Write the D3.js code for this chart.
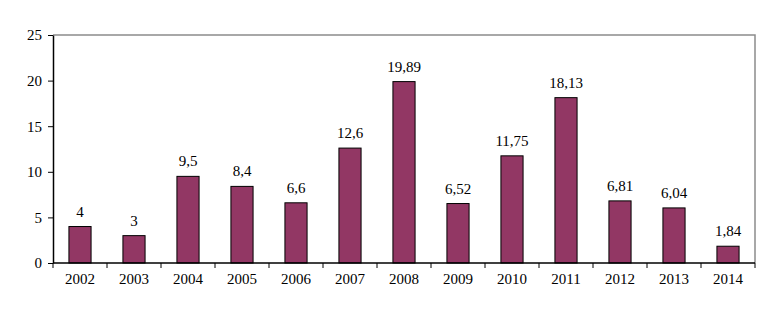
<!DOCTYPE html>
<html>
<head>
<meta charset="utf-8">
<script src="https://cdn.jsdelivr.net/npm/d3@7"></script>
<style>
  html, body { margin: 0; padding: 0; background: #fff; }
  svg text { font-family: "Liberation Serif", "Times New Roman", Times, serif; font-size: 15px; fill: #000; }
</style>
</head>
<body>
<svg id="chart" width="777" height="322"></svg>
<script>
const years = ["2002","2003","2004","2005","2006","2007","2008","2009","2010","2011","2012","2013","2014"];
const values = [4, 3, 9.5, 8.4, 6.6, 12.6, 19.89, 6.52, 11.75, 18.13, 6.81, 6.04, 1.84];
const valueLabels = ["4","3","9,5","8,4","6,6","12,6","19,89","6,52","11,75","18,13","6,81","6,04","1,84"];
const yTicks = [0, 5, 10, 15, 20, 25];

const svg = d3.select("#chart");
const plotL = 53, plotR = 755, plotT = 35, plotB = 263;

const x = d3.scaleBand().domain(years).range([plotL, plotR]).paddingInner(0).paddingOuter(0);
const y = d3.scaleLinear().domain([0, 25]).range([plotB, plotT]);

// plot frame (top and right edges)
svg.append("path")
  .attr("d", `M${plotL},${plotT}H${plotR}V${plotB}`)
  .attr("fill", "none").attr("stroke", "#8c8c8c").attr("stroke-width", 1.5);

// bars
const barW = x.bandwidth() * 0.41;
svg.append("g").selectAll("rect").data(years).join("rect")
  .attr("x", d => x(d) + (x.bandwidth() - barW) / 2)
  .attr("y", (d, i) => y(values[i]))
  .attr("width", barW)
  .attr("height", (d, i) => y(0) - y(values[i]))
  .attr("fill", "#923764")
  .attr("stroke", "#000").attr("stroke-width", 1);

// value labels
svg.append("g").selectAll("text").data(years).join("text")
  .attr("x", d => x(d) + x.bandwidth() / 2)
  .attr("y", (d, i) => y(values[i]) - 10)
  .attr("text-anchor", "middle")
  .text((d, i) => valueLabels[i]);

// y axis
const yAxis = d3.axisLeft(y).tickValues(yTicks).tickSize(5).tickSizeOuter(0).tickPadding(6);
const gy = svg.append("g").attr("transform", `translate(${plotL},0)`).call(yAxis);
gy.attr("font-family", null).attr("font-size", null);
gy.select(".domain").attr("stroke", "#000").attr("stroke-width", 1.5);
gy.selectAll(".tick line").attr("stroke", "#000");

// x axis: ticks sit between categories
const gx = svg.append("g").attr("transform", `translate(0,${plotB})`);
gx.append("line").attr("x1", plotL).attr("x2", plotR).attr("stroke", "#000").attr("stroke-width", 1.5);
const edges = years.map(d => x(d)).concat([plotR]);
gx.selectAll("line.tk").data(edges).join("line").attr("class", "tk")
  .attr("x1", d => d).attr("x2", d => d).attr("y1", 0).attr("y2", 5)
  .attr("stroke", "#000");
gx.selectAll("text").data(years).join("text")
  .attr("x", d => x(d) + x.bandwidth() / 2)
  .attr("y", 21)
  .attr("text-anchor", "middle")
  .text(d => d);
</script>
</body>
</html>
